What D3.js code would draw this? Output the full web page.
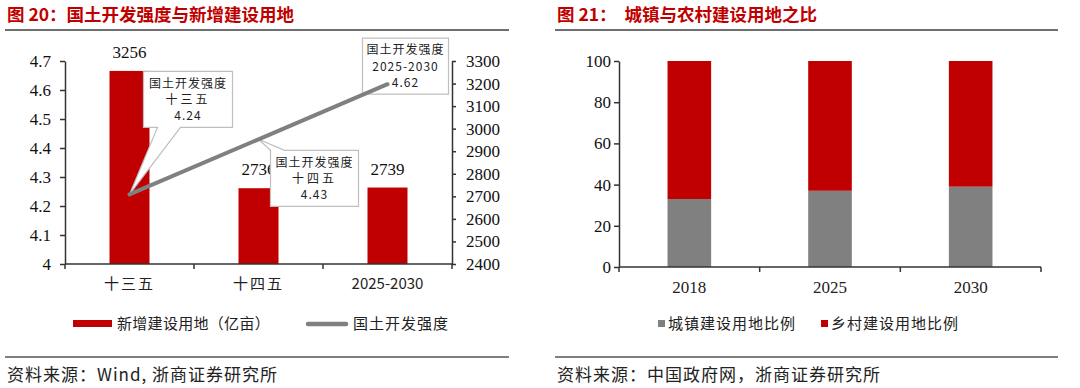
<!DOCTYPE html>
<html><head><meta charset="utf-8">
<script src="https://cdn.jsdelivr.net/npm/d3@7"></script>
<style>
body{margin:0;background:#fff;}
svg{display:block;}
</style></head>
<body>
<svg id="c" width="1080" height="388"></svg>
<script>
// ---------- data ----------
const periods = ["十三五", "十四五", "2025-2030"];
const newLand = [3256, 2736, 2739];          // 新增建设用地（亿亩）
const intensity = [4.24, 4.43, 4.62];        // 国土开发强度
const leftTicks = [4, 4.1, 4.2, 4.3, 4.4, 4.5, 4.6, 4.7];
const rightTicks = [2400, 2500, 2600, 2700, 2800, 2900, 3000, 3100, 3200, 3300];

const years = ["2018", "2025", "2030"];
const urbanShare = [33, 37, 39];   // 城镇建设用地比例
const ruralShare = [67, 63, 61];   // 乡村建设用地比例
const shareTicks = [0, 20, 40, 60, 80, 100];

const RED = "#C00000", GRAY = "#808080", AX = "#333";
const CJK = "'Noto Sans CJK SC', 'Noto Sans', sans-serif";
const SERIF = "'Liberation Serif', 'DejaVu Serif', serif";

const svg = d3.select("#c");

// ---------- headers / footers ----------
function frame(x0, x1, title, source) {
  svg.append("text").attr("x", x0 + 2).attr("y", 15).attr("dy", "0.35em")
    .attr("fill", RED).style("font-family", CJK).attr("font-weight", "bold")
    .attr("font-size", 17.5).attr("xml:space", "preserve").style("white-space", "pre").text(title);
  svg.append("line").attr("x1", x0).attr("x2", x1).attr("y1", 30).attr("y2", 30)
    .attr("stroke", "#404040").attr("stroke-width", 1.3);
  svg.append("line").attr("x1", x0).attr("x2", x1).attr("y1", 357).attr("y2", 357)
    .attr("stroke", "#7f7f7f").attr("stroke-width", 2);
  svg.append("text").attr("x", x0 + 2).attr("y", 375).attr("dy", "0.35em")
    .attr("fill", "#222").style("font-family", CJK).attr("font-size", 17)
    .attr("letter-spacing", 1).text(source);
}
frame(5, 509, "图 20：国土开发强度与新增建设用地", "资料来源：Wind, 浙商证券研究所");
frame(555, 1058, "图 21：  城镇与农村建设用地之比", "资料来源：中国政府网，浙商证券研究所");

// ---------- left chart ----------
const L = svg.append("g");
const x1 = d3.scaleBand().domain(periods).range([65, 452]).paddingInner(0.69).paddingOuter(0.345);
const yL = d3.scaleLinear().domain([4, 4.7]).range([264, 61]);
const yR = d3.scaleLinear().domain([2400, 3300]).range([264, 61]);
const cx = p => x1(p) + x1.bandwidth() / 2;

// bars
L.selectAll("rect.bar").data(periods).join("rect").attr("class", "bar")
  .attr("x", d => x1(d)).attr("width", x1.bandwidth())
  .attr("y", (d, i) => yR(newLand[i])).attr("height", (d, i) => yR(2400) - yR(newLand[i]))
  .attr("fill", RED);
// bar labels
L.selectAll("text.bl").data(periods).join("text").attr("class", "bl")
  .attr("x", d => cx(d)).attr("y", (d, i) => yR(newLand[i]) - 13)
  .attr("text-anchor", "middle").style("font-family", SERIF).attr("font-size", 17)
  .attr("fill", "#111").text((d, i) => newLand[i]);

// axes
function styleAxis(g) {
  g.attr("font-family", null).attr("font-size", null);
  g.selectAll("path,line").attr("stroke", AX).attr("stroke-width", 1.5);
  g.selectAll("text").attr("fill", "#111").style("font-family", SERIF).style("font-size", "17px");
}
const axL = L.append("g").attr("transform", "translate(65,0)")
  .call(d3.axisLeft(yL).tickValues(leftTicks).tickSize(5).tickPadding(9).tickSizeOuter(0).tickFormat(d3.format(".1~f")));
styleAxis(axL);
const axR = L.append("g").attr("transform", "translate(452,0)")
  .call(d3.axisRight(yR).tickValues(rightTicks).tickSize(4).tickPadding(10).tickSizeOuter(0).tickFormat(d3.format("d")));
styleAxis(axR);
// x axis
const xb = L.append("g").attr("transform", "translate(0,264)");
xb.append("line").attr("x1", 65).attr("x2", 452).attr("stroke", AX).attr("stroke-width", 1.5);
const bnd1 = [65].concat(periods.map(p => x1(p) + x1.bandwidth() + x1.step() * 0.345));
xb.selectAll("line.t").data(bnd1).join("line").attr("class", "t")
  .attr("x1", d => d).attr("x2", d => d).attr("y1", 0).attr("y2", 5)
  .attr("stroke", AX).attr("stroke-width", 1.5);
xb.selectAll("text").data(periods).join("text")
  .attr("x", d => cx(d)).attr("y", 20).attr("dy", "0.35em").attr("text-anchor", "middle")
  .style("font-family", CJK).attr("font-size", 15).attr("letter-spacing", d => /\d/.test(d) ? 0 : 2)
  .attr("fill", "#222").text(d => d);

// callouts (drawn before line so line stays on top)
const callouts = [
  { i: 0, box: [14, 103, -123, -67], ptr: [28, 51] },
  { i: 1, box: [12, 100, 11, 67], ptr: [12, 26] },
  { i: 2, box: [-25, 61, -46, 10], ptr: null }
];
callouts.forEach(c => {
  const px = cx(periods[c.i]), py = yL(intensity[c.i]);
  const [l, r, t, b] = c.box.map((v, k) => (k < 2 ? px : py) + v);
  let pts;
  if (!c.ptr) pts = [[l, t], [r, t], [r, b], [l, b]];
  else if (c.box[2] < 0)
    pts = [[l, t], [r, t], [r, b], [px + c.ptr[1], b], [px, py], [px + c.ptr[0], b], [l, b]];
  else
    pts = [[l, t], [px + c.ptr[0], t], [px, py], [px + c.ptr[1], t], [r, t], [r, b], [l, b]];
  L.append("path").attr("d", "M" + pts.map(p => p.join(",")).join("L") + "Z")
    .attr("fill", "#fff").attr("stroke", "#bfbfbf").attr("stroke-width", 1.2);
  const tx = (l + r) / 2;
  const lines = ["国土开发强度", periods[c.i], intensity[c.i].toFixed(2)];
  lines.forEach((s, k) => {
    L.append("text").attr("x", tx).attr("y", t + 12 + k * 16.3).attr("dy", "0.35em")
      .attr("text-anchor", "middle").style("font-family", CJK).attr("font-size", 12)
      .attr("letter-spacing", k === 1 && !/\d/.test(s) ? 3 : 1).attr("fill", "#222").text(s);
  });
});

// intensity line
const line = d3.line().x((d, i) => cx(periods[i])).y(d => yL(d));
L.append("path").datum(intensity).attr("d", line).attr("fill", "none")
  .attr("stroke", GRAY).attr("stroke-width", 4).attr("stroke-linecap", "round");

// left legend
const lg = L.append("g");
lg.append("rect").attr("x", 73).attr("y", 320).attr("width", 39).attr("height", 7).attr("fill", RED);
lg.append("text").attr("x", 117).attr("y", 324).attr("dy", "0.35em").style("font-family", CJK)
  .attr("font-size", 15).attr("letter-spacing", 0.3).attr("fill", "#222").text("新增建设用地（亿亩）");
lg.append("line").attr("x1", 308).attr("x2", 346).attr("y1", 324).attr("y2", 324)
  .attr("stroke", GRAY).attr("stroke-width", 4.5).attr("stroke-linecap", "round");
lg.append("text").attr("x", 353).attr("y", 324).attr("dy", "0.35em").style("font-family", CJK)
  .attr("font-size", 15).attr("letter-spacing", 1).attr("fill", "#222").text("国土开发强度");

// ---------- right chart ----------
const Rg = svg.append("g");
const x2 = d3.scaleBand().domain(years).range([619, 1041]).paddingInner(0.69).paddingOuter(0.345);
const y2 = d3.scaleLinear().domain([0, 100]).range([267, 61]);
const stack = years.map((y, i) => ({ year: y, urban: urbanShare[i], rural: ruralShare[i] }));
Rg.selectAll("rect.u").data(stack).join("rect").attr("class", "u")
  .attr("x", d => x2(d.year)).attr("width", x2.bandwidth())
  .attr("y", d => y2(d.urban)).attr("height", d => y2(0) - y2(d.urban)).attr("fill", GRAY);
Rg.selectAll("rect.r").data(stack).join("rect").attr("class", "r")
  .attr("x", d => x2(d.year)).attr("width", x2.bandwidth())
  .attr("y", d => y2(d.urban + d.rural)).attr("height", d => y2(d.urban) - y2(d.urban + d.rural)).attr("fill", RED);

const ay2 = Rg.append("g").attr("transform", "translate(619,0)")
  .call(d3.axisLeft(y2).tickValues(shareTicks).tickSize(5).tickPadding(3).tickSizeOuter(0));
styleAxis(ay2);
const xb2 = Rg.append("g").attr("transform", "translate(0,267)");
xb2.append("line").attr("x1", 619).attr("x2", 1041).attr("stroke", AX).attr("stroke-width", 1.5);
const bnd2 = [619].concat(years.map(y => x2(y) + x2.bandwidth() + x2.step() * 0.345));
xb2.selectAll("line.t").data(bnd2).join("line").attr("class", "t")
  .attr("x1", d => d).attr("x2", d => d).attr("y1", 0).attr("y2", 5)
  .attr("stroke", AX).attr("stroke-width", 1.5);
xb2.selectAll("text").data(years).join("text")
  .attr("x", d => x2(d) + x2.bandwidth() / 2).attr("y", 20).attr("dy", "0.35em")
  .attr("text-anchor", "middle").style("font-family", SERIF).attr("font-size", 17)
  .attr("fill", "#222").text(d => d);

// right legend
const lg2 = Rg.append("g");
[["城镇建设用地比例", GRAY, 658], ["乡村建设用地比例", RED, 821]].forEach(([t, c, x]) => {
  lg2.append("rect").attr("x", x).attr("y", 320).attr("width", 7).attr("height", 7).attr("fill", c);
  lg2.append("text").attr("x", x + 10).attr("y", 324).attr("dy", "0.35em").style("font-family", CJK)
    .attr("font-size", 15).attr("letter-spacing", 1).attr("fill", "#222").text(t);
});
</script>
</body></html>
